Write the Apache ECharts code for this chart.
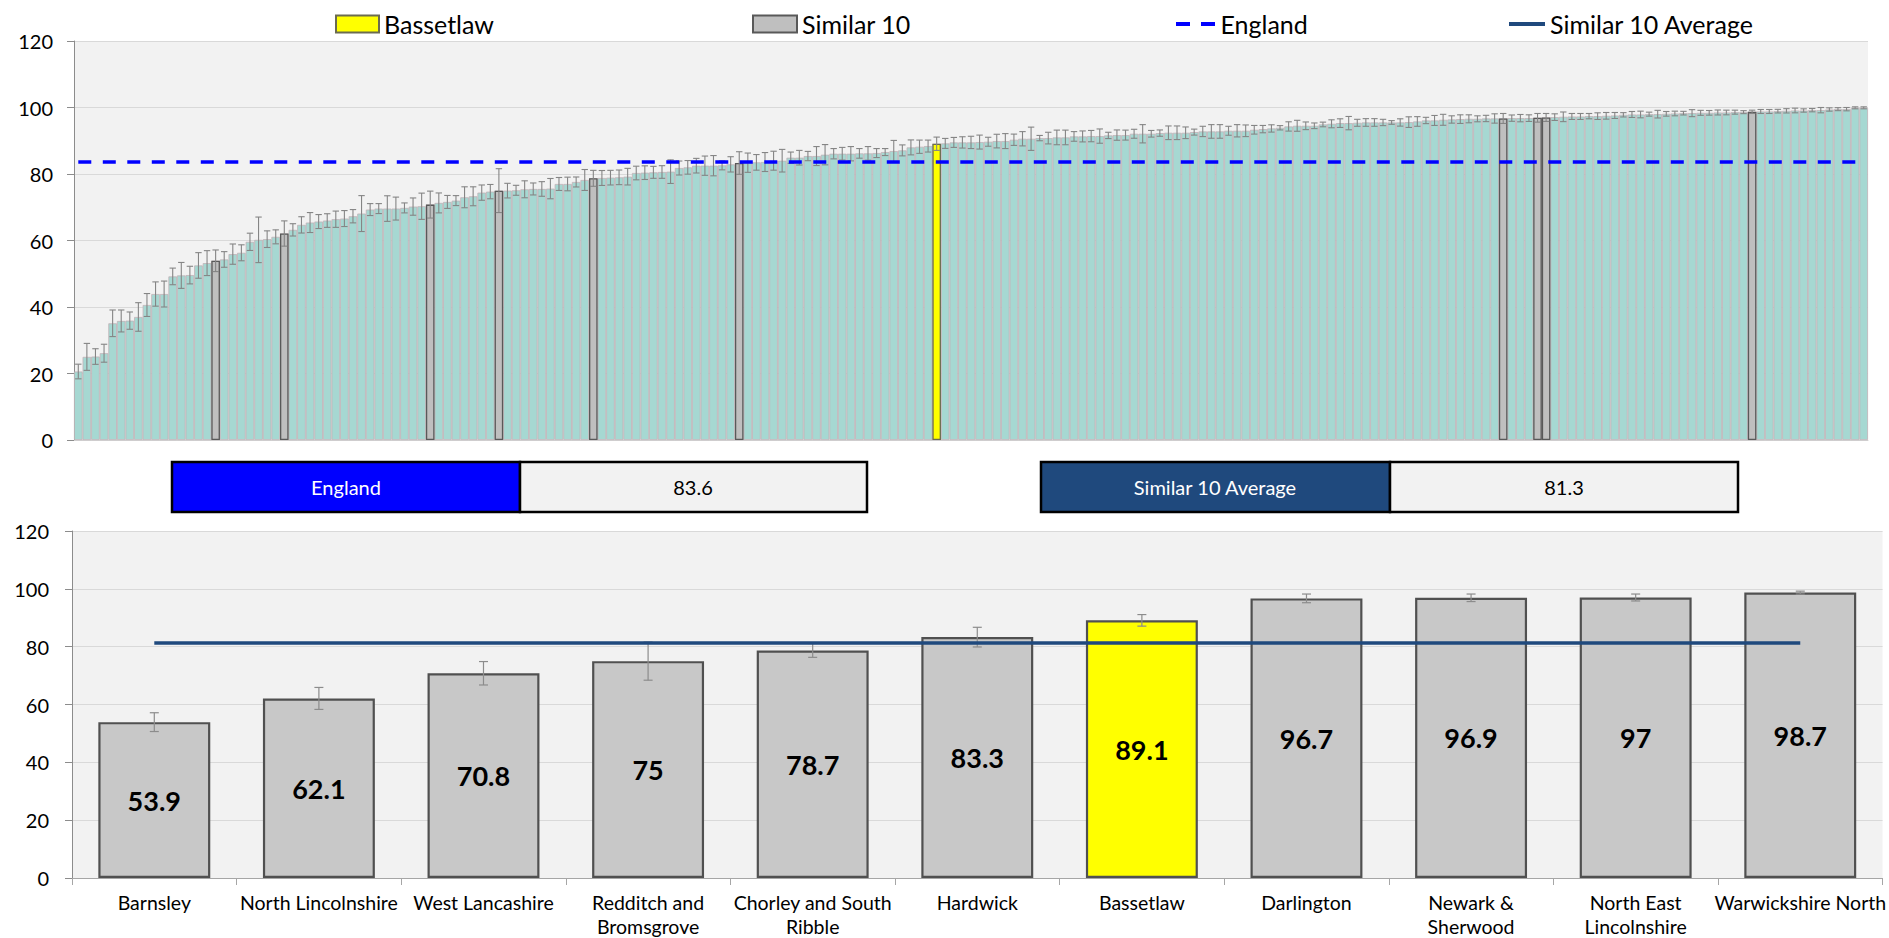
<!DOCTYPE html>
<html>
<head>
<meta charset="utf-8">
<script src="https://cdn.jsdelivr.net/npm/echarts@6/dist/echarts.min.js"></script>
<style>
  html, body { margin: 0; padding: 0; background: #ffffff; }
  #chart { width: 1889px; height: 938px; }
</style>
</head>
<body>
<div id="chart"></div>
<script>
// ---------- DATA ----------
// All areas, ranked ascending (top chart)
const allValues = [
  20.6, 25.0, 25.1, 26.1, 35.1, 35.8, 35.9, 37.0, 40.6, 43.9,
  43.9, 49.2, 49.5, 49.6, 52.5, 53.2, 53.9, 54.3, 55.9, 56.3,
  59.6, 60.2, 60.4, 61.1, 62.1, 63.2, 64.7, 65.4, 65.7, 66.0,
  66.4, 66.6, 67.3, 68.1, 69.3, 69.6, 69.6, 69.6, 69.8, 70.2,
  70.3, 70.8, 71.3, 71.6, 72.0, 73.0, 73.3, 74.4, 74.7, 75.0,
  75.0, 75.1, 75.4, 75.5, 75.5, 75.6, 77.0, 77.0, 77.6, 78.2,
  78.7, 78.8, 78.9, 79.0, 79.2, 80.3, 80.4, 80.5, 80.6, 80.7,
  81.8, 82.0, 82.5, 82.5, 82.5, 82.6, 82.9, 83.3, 83.4, 83.5,
  83.6, 84.0, 84.0, 84.9, 84.9, 85.4, 85.4, 85.8, 86.1, 86.1,
  86.1, 86.2, 86.2, 86.3, 86.6, 86.9, 87.1, 88.0, 88.2, 88.4,
  89.1, 89.2, 89.5, 89.5, 89.5, 89.6, 89.7, 89.9, 89.9, 90.3,
  90.6, 90.6, 90.8, 90.8, 91.0, 91.0, 91.3, 91.3, 91.4, 91.4,
  91.6, 91.7, 91.7, 92.1, 92.1, 92.1, 92.3, 92.4, 92.4, 92.4,
  92.6, 92.8, 92.8, 92.8, 93.0, 93.0, 93.0, 93.3, 93.5, 93.7,
  93.9, 94.3, 94.5, 94.5, 94.5, 94.9, 95.1, 95.3, 95.3, 95.4,
  95.5, 95.5, 95.5, 95.5, 95.5, 95.6, 95.8, 96.1, 96.1, 96.3,
  96.4, 96.5, 96.6, 96.6, 96.7, 96.7, 96.7, 96.8, 96.8, 96.8,
  96.9, 97.0, 97.1, 97.2, 97.3, 97.3, 97.4, 97.4, 97.5, 97.6,
  97.8, 97.9, 97.9, 98.0, 98.0, 98.1, 98.2, 98.3, 98.3, 98.4,
  98.4, 98.5, 98.5, 98.6, 98.6, 98.7, 98.8, 98.8, 98.9, 99.0,
  99.1, 99.1, 99.2, 99.2, 99.4, 99.5, 99.5, 99.9, 99.9
];
// Half-width of the confidence interval for each ranked area
const allErrors = [
  2.2, 4.05, 2.35, 2.7, 4.0, 3.3, 2.6, 4.3, 3.45, 3.65,
  3.9, 2.5, 3.9, 2.65, 3.85, 3.75, 3.25, 2.35, 3.05, 2.4,
  2.6, 6.85, 2.5, 2.1, 3.8, 1.85, 2.45, 3.0, 2.1, 2.05,
  2.45, 2.4, 2.0, 5.4, 1.8, 1.5, 3.85, 3.45, 1.5, 2.6,
  3.95, 4.05, 3.0, 1.95, 1.5, 3.15, 2.85, 2.3, 2.15, 6.6,
  2.2, 1.5, 2.55, 1.8, 2.2, 3.05, 1.95, 2.05, 1.5, 3.15,
  2.4, 2.25, 2.2, 2.2, 2.5, 2.05, 2.05, 1.8, 1.9, 3.55,
  2.1, 2.05, 2.2, 2.9, 3.05, 1.35, 2.3, 3.4, 2.9, 2.35,
  2.85, 2.85, 3.4, 1.7, 2.2, 1.4, 2.85, 3.05, 1.55, 1.9,
  2.15, 1.45, 2.05, 1.35, 1.05, 3.2, 1.65, 2.25, 2.0, 1.8,
  2.0, 1.5, 1.5, 1.7, 1.85, 2.1, 1.35, 2.05, 2.25, 1.7,
  2.15, 3.5, 0.8, 1.75, 2.2, 2.2, 1.45, 1.65, 1.7, 2.15,
  0.95, 1.55, 1.5, 1.35, 2.75, 1.0, 0.95, 2.05, 2.05, 1.75,
  0.9, 1.55, 2.05, 2.05, 1.35, 1.85, 1.75, 1.3, 1.1, 1.1,
  0.65, 1.4, 1.65, 1.15, 0.85, 0.7, 1.2, 1.3, 2.0, 1.05,
  1.15, 1.15, 0.95, 0.55, 1.1, 1.6, 1.45, 0.95, 1.5, 1.65,
  1.1, 1.3, 1.2, 0.9, 0.95, 1.4, 1.5, 0.95, 1.1, 1.0,
  1.3, 1.2, 1.0, 1.45, 0.9, 0.9, 0.8, 1.0, 1.0, 0.9,
  0.65, 0.9, 1.0, 0.6, 1.15, 0.7, 0.7, 0.55, 1.05, 0.75,
  0.7, 0.75, 0.7, 0.6, 0.45, 0.5, 0.6, 0.6, 0.55, 0.65,
  0.7, 0.5, 0.5, 0.8, 0.5, 0.45, 0.5, 0.3, 0.3
];
// Ranks (1-based) of the highlighted areas in the ranked list
const bassetlawRank = 101;
const similarRanks = [17, 25, 42, 50, 61, 78, 167, 171, 172, 196];

const englandValue = 83.6;
const similarAverage = 81.3;

// Bottom chart: Bassetlaw and its similar 10
const similarNames = [
  'Barnsley', 'North Lincolnshire', 'West Lancashire', 'Redditch and\nBromsgrove',
  'Chorley and South\nRibble', 'Hardwick', 'Bassetlaw', 'Darlington',
  'Newark &\nSherwood', 'North East\nLincolnshire', 'Warwickshire North'
];
const similarValues = [53.9, 62.1, 70.8, 75, 78.7, 83.3, 89.1, 96.7, 96.9, 97, 98.7];
const similarErrors = [3.25, 3.8, 4.05, 6.6, 2.4, 3.4, 2.0, 1.5, 1.3, 1.2, 0.5];
const highlightName = 'Bassetlaw';

const yMin = 0, yMax = 120, yStep = 20;

// ---------- CHART ----------
const FONT = 'Lato';
const chart = echarts.init(document.getElementById('chart'), null, { renderer: 'svg' });

const rankLabels = allValues.map((v, i) => String(i + 1));

function errorBars(capHalf, color, width) {
  return function (params, api) {
    const x = api.value(0);
    const lo = api.coord([x, api.value(1)]);
    const hi = api.coord([x, api.value(2)]);
    const style = { stroke: color, lineWidth: width };
    return {
      type: 'group',
      children: [
        { type: 'line', shape: { x1: lo[0], y1: hi[1], x2: lo[0], y2: lo[1] }, style: style },
        { type: 'line', shape: { x1: lo[0] - capHalf, y1: hi[1], x2: lo[0] + capHalf, y2: hi[1] }, style: style },
        { type: 'line', shape: { x1: lo[0] - capHalf, y1: lo[1], x2: lo[0] + capHalf, y2: lo[1] }, style: style }
      ]
    };
  };
}

function yAxisCfg(gridIndex, margin) {
  return {
    type: 'value', gridIndex: gridIndex, min: yMin, max: yMax, interval: yStep,
    axisLine: { show: true, lineStyle: { color: '#8C8C8C', width: 1 } },
    axisTick: { show: true, length: 7, lineStyle: { color: '#8C8C8C' } },
    axisLabel: { fontFamily: FONT, fontSize: 20, color: '#000', margin: margin },
    splitLine: { show: true, lineStyle: { color: '#D9D9D9', width: 1 } }
  };
}

function legendCfg(name, left, itemWidth, itemHeight, icon) {
  const cfg = {
    data: [name], left: left, top: 10, padding: 0,
    itemWidth: itemWidth, itemHeight: itemHeight,
    selectedMode: false,
    textStyle: { fontFamily: FONT, fontSize: 25, color: '#000', lineHeight: 28 }
  };
  if (icon) cfg.icon = icon;
  return cfg;
}

const boxY = 462, boxH = 50;
function box(x, w, fill) {
  return { type: 'rect', shape: { x: x, y: boxY, width: w, height: boxH },
           style: { fill: fill, stroke: '#000', lineWidth: 2.5 }, z: 10 };
}
function boxText(cx, text, color) {
  return { type: 'text', x: cx, y: boxY + boxH / 2, z: 11,
           style: { text: text, fill: color, font: '20px ' + FONT,
                    align: 'center', verticalAlign: 'middle',
                    textAlign: 'center', textVerticalAlign: 'middle' } };
}

const option = {
  backgroundColor: '#ffffff',
  animation: false,
  legend: [
    legendCfg('Bassetlaw', 335, 43, 17, 'rect'),
    legendCfg('Similar 10', 752, 44, 17, 'rect'),
    legendCfg('England', 1176, 40, 4, 'path://M0,0H14V4H0Z M25,0H39V4H25Z'),
    legendCfg('Similar 10 Average', 1509, 36, 4, 'rect')
  ],
  grid: [
    { left: 74, right: 21, top: 41, bottom: 498, show: true, backgroundColor: '#F2F2F2', borderWidth: 0 },
    { left: 72, right: 4, top: 531, bottom: 59, show: true, backgroundColor: '#F2F2F2', borderWidth: 0 }
  ],
  xAxis: [
    { type: 'category', gridIndex: 0, data: rankLabels, boundaryGap: true,
      axisLine: { show: true, lineStyle: { color: '#D0D0D0' } },
      axisTick: { show: false }, axisLabel: { show: false }, splitLine: { show: false } },
    { type: 'category', gridIndex: 1, data: similarNames, boundaryGap: true,
      axisLine: { show: true, lineStyle: { color: '#A6A6A6' } },
      axisTick: { show: true, length: 7, alignWithLabel: false, lineStyle: { color: '#A6A6A6' } },
      axisLabel: { fontFamily: FONT, fontSize: 19.5, color: '#000', margin: 12, lineHeight: 24, interval: 0 } }
  ],
  yAxis: [yAxisCfg(0, 21), yAxisCfg(1, 23)],
  graphic: [
    box(172, 348, '#0000FF'), box(520, 347, '#F2F2F2'),
    boxText(346, 'England', '#fff'), boxText(693, String(englandValue), '#000'),
    box(1041, 349, '#1F497D'), box(1390, 348, '#F2F2F2'),
    boxText(1215, 'Similar 10 Average', '#fff'), boxText(1564, String(similarAverage), '#000')
  ],
  series: [
    {
      name: 'All areas', type: 'bar', xAxisIndex: 0, yAxisIndex: 0,
      data: allValues, barCategoryGap: '0%', barGap: '-100%',
      itemStyle: { color: '#A6D8D2', borderColor: '#C2B3B8', borderWidth: 0.8 },
      z: 2
    },
    {
      name: 'Similar 10', type: 'bar', xAxisIndex: 0, yAxisIndex: 0,
      data: allValues.map((v, i) => similarRanks.includes(i + 1) ? v : '-'),
      barCategoryGap: '0%', barGap: '-100%',
      itemStyle: { color: '#BFBFBF', borderColor: '#595959', borderWidth: 1.3 },
      z: 3
    },
    {
      name: 'Bassetlaw', type: 'bar', xAxisIndex: 0, yAxisIndex: 0,
      data: allValues.map((v, i) => (i + 1) === bassetlawRank ? v : '-'),
      barCategoryGap: '0%', barGap: '-100%',
      itemStyle: { color: '#FFFF00', borderColor: '#6B6B50', borderWidth: 1.3 },
      z: 3
    },
    {
      name: 'All areas CI', type: 'custom', xAxisIndex: 0, yAxisIndex: 0,
      data: allValues.map((v, i) => [i, v - allErrors[i], v + allErrors[i]]),
      encode: { x: 0, y: [1, 2] },
      renderItem: errorBars(3.2, '#858585', 1.1),
      z: 4, silent: true
    },
    {
      name: 'England', type: 'line', xAxisIndex: 0, yAxisIndex: 0,
      data: allValues.map(() => englandValue),
      symbol: 'none', showSymbol: false,
      lineStyle: { color: '#0000FF', width: 3.5, type: [13, 11.5] },
      itemStyle: { color: '#0000FF' },
      z: 5, silent: true
    },
    {
      name: 'Similar 10 comparison', type: 'bar', xAxisIndex: 1, yAxisIndex: 1,
      data: similarValues.map((v, i) => ({
        value: v,
        itemStyle: similarNames[i] === highlightName ? { color: '#FFFF00' } : {}
      })),
      barWidth: '68%',
      itemStyle: { color: '#C8C8C8', borderColor: '#505050', borderWidth: 2.2 },
      label: { show: true, position: 'inside', fontFamily: FONT, fontWeight: 'bold',
               fontSize: 27, color: '#000' },
      z: 2
    },
    {
      name: 'Similar 10 CI', type: 'custom', xAxisIndex: 1, yAxisIndex: 1,
      data: similarValues.map((v, i) => [i, v - similarErrors[i], v + similarErrors[i]]),
      encode: { x: 0, y: [1, 2] },
      renderItem: errorBars(4.5, '#8C8C8C', 1.2),
      z: 4, silent: true
    },
    {
      name: 'Similar 10 Average', type: 'line', xAxisIndex: 1, yAxisIndex: 1,
      data: similarValues.map(() => similarAverage),
      symbol: 'none', showSymbol: false,
      lineStyle: { color: '#1F497D', width: 3.5 },
      itemStyle: { color: '#1F497D' },
      z: 5, silent: true
    }
  ]
};
chart.setOption(option);
</script>
</body>
</html>
